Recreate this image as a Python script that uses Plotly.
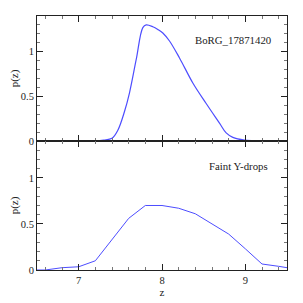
import plotly.graph_objects as go
from plotly.subplots import make_subplots

z_top = [6.5, 7.0, 7.21, 7.3, 7.4, 7.47, 7.55, 7.61, 7.69, 7.77, 7.81, 7.89, 7.95, 8.01, 8.09, 8.21, 8.37, 8.53, 8.69, 8.77, 8.85, 8.99, 9.25, 9.5]
p_top = [0.0, 0.0, 0.0, 0.01, 0.03, 0.12, 0.33, 0.54, 0.91, 1.27, 1.30, 1.28, 1.25, 1.21, 1.12, 0.93, 0.65, 0.42, 0.20, 0.09, 0.04, 0.01, 0.0, 0.0]

z_bot = [6.5, 6.6, 6.8, 7.0, 7.2, 7.4, 7.6, 7.8, 8.0, 8.2, 8.4, 8.6, 8.8, 9.0, 9.2, 9.4, 9.5]
p_bot = [0.0, 0.0, 0.025, 0.035, 0.10, 0.33, 0.56, 0.70, 0.70, 0.67, 0.61, 0.50, 0.39, 0.23, 0.065, 0.04, 0.025]

labels = ["BoRG_17871420", "Faint Y-drops"]
x_ticks = [7, 8, 9]
y_ticks = [0, 0.5, 1]
y_ticktext = ["0", "0.5", "1"]

LINE = "#4d4dff"
FONT = "Liberation Serif"

fig = make_subplots(rows=2, cols=1, shared_xaxes=True, vertical_spacing=0)
fig.add_trace(go.Scatter(x=z_top, y=p_top, mode="lines", line=dict(color=LINE, width=1.2), line_shape="spline"), row=1, col=1)
fig.add_trace(go.Scatter(x=z_bot, y=p_bot, mode="lines", line=dict(color=LINE, width=1)), row=2, col=1)

common_x = dict(range=[6.5, 9.5], tickvals=x_ticks, ticks="inside", ticklen=6, tickcolor="#222",
                showline=True, linecolor="#222", linewidth=1, mirror="allticks", showgrid=False, zeroline=False,
                tickfont=dict(size=10.5), automargin=False,
                minor=dict(ticks="inside", dtick=0.2, tick0=6.6, ticklen=3, tickcolor="#777", showgrid=False))
common_y = dict(range=[0, 1.4], tickvals=y_ticks, ticktext=y_ticktext, ticks="inside", ticklen=6, tickcolor="#222",
                showline=True, linecolor="#222", linewidth=1, mirror="allticks", showgrid=False, zeroline=False,
                tickfont=dict(size=10.5), automargin=False,
                minor=dict(ticks="inside", dtick=0.1, tick0=0, ticklen=3, tickcolor="#777", showgrid=False),
                title=dict(text="p(z)", standoff=8, font=dict(size=11, family=FONT, color="#222")))

fig.update_xaxes(**common_x)
fig.update_yaxes(**common_y)
fig.update_xaxes(showticklabels=False, row=1, col=1)
fig.update_xaxes(title=dict(text="z", standoff=0, font=dict(size=11, family=FONT, color="#222")), row=2, col=1)
fig.update_yaxes(domain=[0.508, 1], row=1, col=1)
fig.update_yaxes(domain=[0, 0.508], row=2, col=1)

fig.add_annotation(x=0.945, y=0.906, xref="paper", yref="paper", text=labels[0], showarrow=False,
                   xanchor="right", yanchor="middle", font=dict(size=10.8, family=FONT, color="#222"))
fig.add_annotation(x=0.93, y=0.409, xref="paper", yref="paper", text=labels[1], showarrow=False,
                   xanchor="right", yanchor="middle", font=dict(size=10.8, family=FONT, color="#222"))

# page body has a default 8px margin, so the figure is sized to fit the 303px window
fig.update_layout(width=295, height=295, margin=dict(l=29, r=16, t=8, b=33, autoexpand=False),
                  paper_bgcolor="white", plot_bgcolor="white", showlegend=False,
                  font=dict(family=FONT, size=11, color="#222"))
fig.write_html("out.html")
